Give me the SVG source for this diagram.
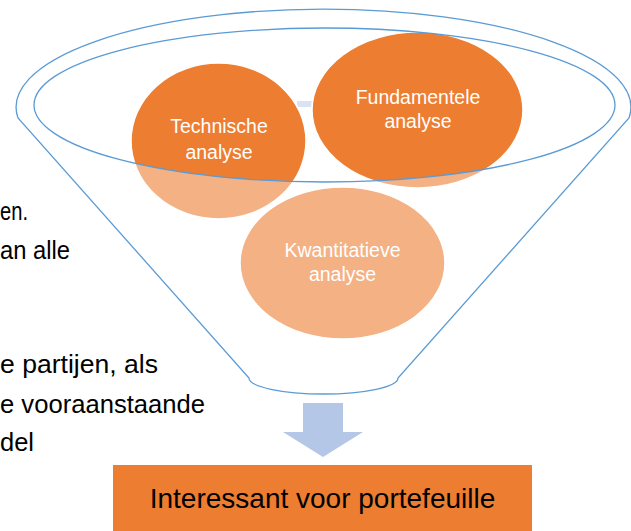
<svg xmlns="http://www.w3.org/2000/svg" width="631" height="531" viewBox="0 0 631 531">
<style>
.light{fill:#F4B183;stroke:#fff;stroke-width:1.5}
.dark{fill:#ED7D31;stroke:#fff;stroke-width:1.5}
.ctext{font-family:"Liberation Sans",Arial,sans-serif;font-size:19.5px;fill:#fff;text-anchor:middle}
.side{font-family:"Liberation Sans",Arial,sans-serif;font-size:26.5px;fill:#000}
.line{fill:none;stroke:#5B9BD5;stroke-width:1.3}
</style>
<defs>
<clipPath id="inner"><ellipse cx="324.5" cy="105" rx="290.5" ry="77"/></clipPath>
</defs>
<rect width="631" height="531" fill="#fff"/>
<rect x="297" y="101" width="15" height="6" fill="#DAE3F3"/>
<g id="side-text">
<text class="side" x="0" y="220" textLength="28" lengthAdjust="spacingAndGlyphs">en.</text>
<text class="side" x="0" y="259" textLength="70" lengthAdjust="spacingAndGlyphs">an alle</text>
<text class="side" x="0" y="373" textLength="158" lengthAdjust="spacingAndGlyphs">e partijen, als</text>
<text class="side" x="0" y="413" textLength="205" lengthAdjust="spacingAndGlyphs">e vooraanstaande</text>
<text class="side" x="0" y="451" textLength="34" lengthAdjust="spacingAndGlyphs">del</text>
</g>
<g id="technische">
<ellipse class="light" cx="218.5" cy="141" rx="87.5" ry="78"/>
<ellipse class="dark" cx="218.5" cy="141" rx="87.5" ry="78" clip-path="url(#inner)"/>
<text class="ctext" x="219" y="133">Technische</text>
<text class="ctext" x="219" y="159">analyse</text>
</g>
<g id="fundamentele">
<ellipse class="light" cx="417.5" cy="110" rx="105.5" ry="78"/>
<ellipse class="dark" cx="417.5" cy="110" rx="105.5" ry="78" clip-path="url(#inner)"/>
<text class="ctext" x="418" y="104">Fundamentele</text>
<text class="ctext" x="418" y="128">analyse</text>
</g>
<g id="kwantitatieve">
<ellipse class="light" cx="342.5" cy="263" rx="102.5" ry="76"/>
<text class="ctext" x="342.5" y="257">Kwantitatieve</text>
<text class="ctext" x="342.5" y="281">analyse</text>
</g>
<g id="funnel">
<path class="line" d="M18,118 A307.4,98 0 1 1 629,118 L398,378 A74.5,16 0 0 1 249,378 Z"/>
<ellipse class="line" cx="324.5" cy="105" rx="290.5" ry="77"/>
</g>
<g id="connectors">
<path d="M303,403 H343 V432 H363 L323,457 L283,432 H303 Z" fill="#B4C7E7"/>
</g>
<g id="result">
<rect x="113" y="465" width="419" height="70" fill="#ED7D31"/>
<text x="322.5" y="508" font-family="'Liberation Sans',Arial,sans-serif" font-size="28" fill="#000" text-anchor="middle">Interessant voor portefeuille</text>
</g>
</svg>
